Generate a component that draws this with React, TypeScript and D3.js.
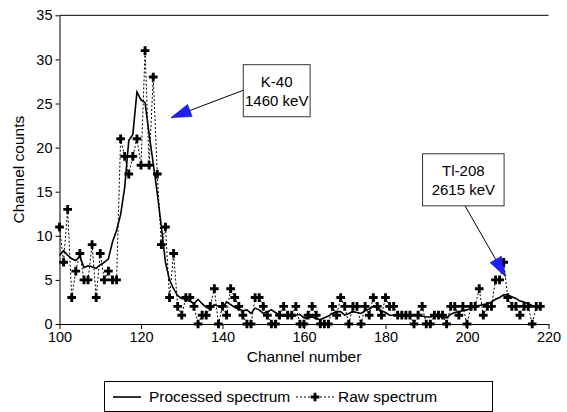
import React, { useRef, useEffect } from "react";
import * as d3 from "d3";

// channel of the first entry in each series
const firstChannel = 100;

const rawCounts = [
  11, 7, 13, 3, 6, 8, 5, 5, 9, 3, 8, 5, 6, 5, 5, 21, 19, 17, 19, 21,
  18, 31, 18, 28, 17, 9, 11, 3, 8, 2, 1, 3, 3, 2, 0, 1, 1, 2, 4, 0,
  2, 1, 4, 3, 2, 1, 0, 0, 3, 3, 2, 1, 0, 0, 1, 2, 1, 1, 2, 0,
  0, 1, 2, 1, 0, 0, 0, 2, 1, 3, 2, 0, 2, 2, 0, 2, 1, 3, 2, 1,
  3, 2, 2, 1, 1, 1, 1, 0, 1, 2, 0, 0, 1, 1, 1, 0, 2, 2, 1, 2,
  0, 2, 2, 4, 1, 2, 2, 5, 5, 7, 3, 2, 2, 1, 2, 2, 0, 2, 2,
];

const processedCounts = [
  7.8, 8.3, 7.8, 7.4, 7.2, 7.7, 6.4, 6.6, 6.5, 6.3, 6.7, 7.0, 7.4, 9.3, 10.6, 12.4, 15.5, 20.8, 21.5, 26.3,
  25.4, 25.1, 21.5, 18.2, 14.8, 11.0, 7.0, 5.0, 4.0, 3.2, 2.9, 2.8, 2.6, 2.3, 2.8, 2.3, 1.9, 1.7, 2.2, 2.0,
  1.8, 2.5, 2.2, 1.9, 1.7, 1.5, 1.6, 1.2, 1.8, 1.6, 1.2, 1.4, 1.6, 1.3, 1.0, 0.9, 1.0, 0.8, 1.0, 1.1,
  0.7, 0.7, 0.8, 0.6, 0.5, 0.7, 0.9, 1.2, 1.4, 1.4, 1.0, 1.2, 1.4, 1.3, 1.2, 1.5, 1.7, 2.0, 1.9, 1.5,
  1.3, 1.0, 1.0, 1.0, 1.1, 0.9, 0.9, 1.0, 1.0, 0.9, 0.8, 0.8, 0.9, 0.8, 0.8, 0.7, 1.1, 1.3, 1.4, 1.5,
  1.6, 1.8, 2.0, 2.1, 2.2, 2.3, 2.5, 2.8, 3.0, 3.3, 3.3, 3.1, 2.9, 2.6, 2.5, 2.3, 2.1, 2.0, 1.7,
];

const xTicks = [100, 120, 140, 160, 180, 200, 220];
const yTicks = [0, 5, 10, 15, 20, 25, 30, 35];

const annotationLabels = [
  { lines: ["K-40", "1460 keV"], box: [145.1, 161.5, 29.4, 23.5], from: [145.1, 26.5], tip: [127.4, 23.4] },
  { lines: ["Tl-208", "2615 keV"], box: [189.1, 209.1, 19.3, 13.4], from: [199.5, 13.4], tip: [209.5, 5.35] },
];

const FONT = "'Liberation Sans', Arial, Helvetica, sans-serif";

const App = () => {
  const width = 567;
  const height = 412;
  const gx = useRef<SVGGElement>(null);
  const gy = useRef<SVGGElement>(null);

  const x = d3.scaleLinear().domain([100, 220]).range([59.5, 548.5]);
  const y = d3.scaleLinear().domain([0, 35]).range([324, 15.3]);

  const rawPts = rawCounts.map((v, i) => [firstChannel + i, v] as [number, number]);
  const procPts = processedCounts.map((v, i) => [firstChannel + i, v] as [number, number]);

  const line = d3
    .line<[number, number]>()
    .x((d) => x(d[0]))
    .y((d) => y(d[1]));

  const marker = d3.symbol(d3.symbolCross, 42)() as string;

  useEffect(() => {
    const ax = d3.select(gx.current!);
    ax.call(d3.axisBottom(x).tickValues(xTicks).tickSize(5).tickSizeOuter(0).tickPadding(3));
    ax.attr("font-family", FONT).attr("font-size", 14.5);
    ax.selectAll("text").attr("fill", "#000");
    ax.selectAll("line,path").attr("stroke", "#000");

    const ay = d3.select(gy.current!);
    ay.call(d3.axisLeft(y).tickValues(yTicks).tickSize(4).tickSizeOuter(0).tickPadding(3));
    ay.attr("font-family", FONT).attr("font-size", 14.5);
    ay.selectAll("text").attr("fill", "#000");
    ay.selectAll("line,path").attr("stroke", "#000");
  }, []);

  const arrowHead = (fx: number, fy: number, tx: number, ty: number) => {
    const len = 20;
    const half = 6.5;
    const dx = tx - fx;
    const dy = ty - fy;
    const d = Math.hypot(dx, dy);
    const ux = dx / d;
    const uy = dy / d;
    const bx = tx - ux * len;
    const by = ty - uy * len;
    return `M${tx},${ty}L${bx - uy * half},${by + ux * half}L${bx + uy * half},${by - ux * half}Z`;
  };

  return (
    <svg
      width={width}
      height={height}
      style={{ position: "absolute", left: 0, top: 0, background: "#fff" }}
      fontFamily={FONT}
    >
      {/* top frame line */}
      <line x1={x(100)} x2={x(220)} y1={y(35)} y2={y(35)} stroke="#000" strokeWidth={1} />

      {/* raw spectrum */}
      <path d={line(rawPts) ?? ""} fill="none" stroke="#000" strokeWidth={1} strokeDasharray="2,2" />
      {rawPts.map((d, i) => (
        <path key={i} d={marker} transform={`translate(${x(d[0])},${y(d[1])})`} fill="#000" />
      ))}

      {/* processed spectrum */}
      <path d={line(procPts) ?? ""} fill="none" stroke="#000" strokeWidth={1.6} />

      <g ref={gx} transform={`translate(0,${y(0)})`} />
      <g ref={gy} transform={`translate(${x(100)},0)`} />

      <text x={(x(100) + x(220)) / 2} y={362} textAnchor="middle" fontSize={15.5}>
        Channel number
      </text>
      <text
        transform={`translate(24,${(y(0) + y(35)) / 2}) rotate(-90)`}
        textAnchor="middle"
        fontSize={15.5}
      >
        Channel counts
      </text>

      {/* annotations */}
      {annotationLabels.map((a, i) => {
        const [x0, x1, y0, y1] = a.box;
        const bx = x(x0);
        const bw = x(x1) - x(x0);
        const by = y(y0);
        const bh = y(y1) - y(y0);
        const fx = x(a.from[0]);
        const fy = y(a.from[1]);
        const tx = x(a.tip[0]);
        const ty = y(a.tip[1]);
        return (
          <g key={i}>
            <line x1={fx} y1={fy} x2={tx} y2={ty} stroke="#000" strokeWidth={1} />
            <path d={arrowHead(fx, fy, tx, ty)} fill="#1f1fff" stroke="#10107a" strokeWidth={0.6} />
            <rect x={bx} y={by} width={bw} height={bh} fill="#fff" stroke="#333" strokeWidth={1} />
            <text x={bx + bw / 2} y={by + 22} textAnchor="middle" fontSize={15}>
              {a.lines[0]}
            </text>
            <text x={bx + bw / 2} y={by + 41} textAnchor="middle" fontSize={15}>
              {a.lines[1]}
            </text>
          </g>
        );
      })}

      {/* legend */}
      <g>
        <rect x={104.5} y={381.5} width={388} height={30} fill="#fff" stroke="#000" strokeWidth={1} />
        <line x1={113} x2={141} y1={397} y2={397} stroke="#000" strokeWidth={1.6} />
        <text x={149} y={402} fontSize={15.5}>
          Processed spectrum
        </text>
        <line x1={296} x2={334} y1={397} y2={397} stroke="#000" strokeWidth={1} strokeDasharray="2,2" />
        <path d={marker} transform="translate(315,397)" fill="#000" />
        <text x={338} y={402} fontSize={15.5}>
          Raw spectrum
        </text>
      </g>
    </svg>
  );
};

export default App;
